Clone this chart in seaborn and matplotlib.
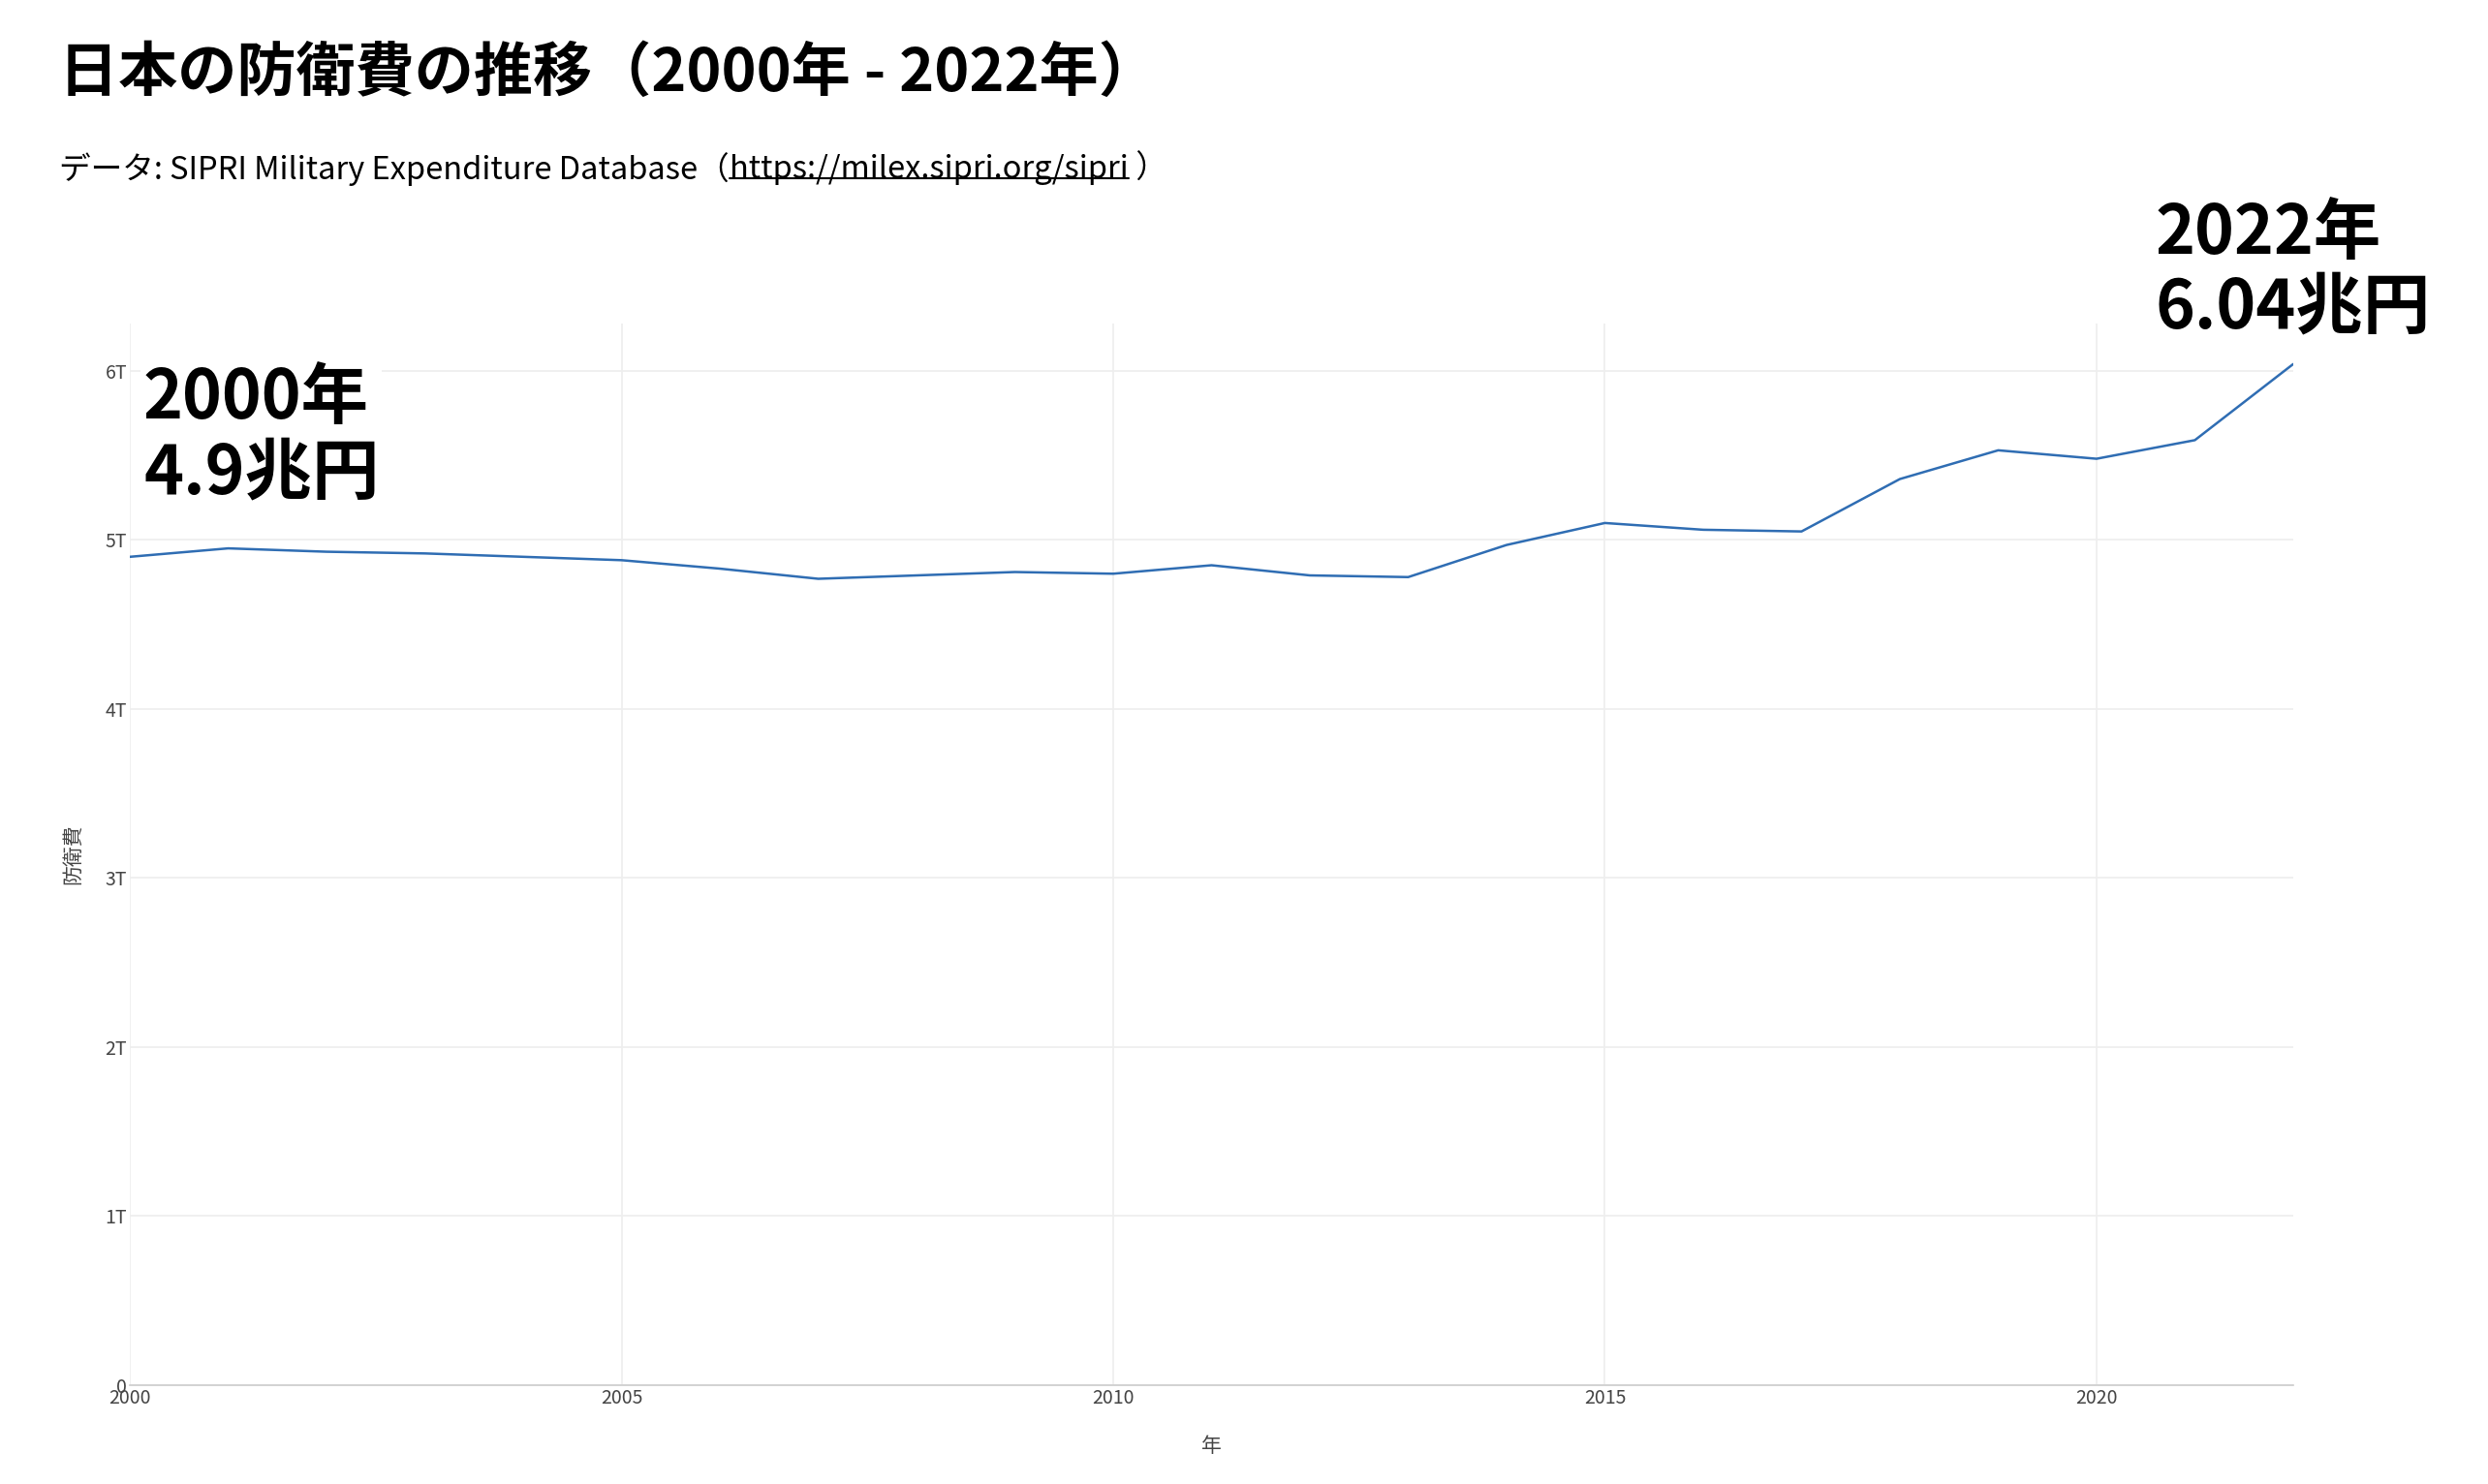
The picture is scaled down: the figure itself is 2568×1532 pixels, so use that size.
import matplotlib
matplotlib.use("Agg")
import matplotlib.pyplot as plt
import matplotlib.ticker as mticker
from matplotlib.lines import Line2D
import seaborn as sns
import pandas as pd

# 防衛費（兆円）, SIPRI
years = list(range(2000, 2023))
spending = [4.90, 4.95, 4.93, 4.92, 4.90, 4.88, 4.83, 4.77, 4.79, 4.81, 4.80, 4.85,
            4.79, 4.78, 4.97, 5.10, 5.06, 5.05, 5.36, 5.53, 5.48, 5.59, 6.04]
y_ticks = [0, 1, 2, 3, 4, 5, 6]
x_ticks = [2000, 2005, 2010, 2015, 2020]

title = "日本の防衛費の推移（2000年 - 2022年）"
sub_pre = "データ: SIPRI Military Expenditure Database（"
sub_url = "https://milex.sipri.org/sipri"
sub_post = " ）"

sns.set_style("white")
plt.rcParams["font.family"] = ["Noto Sans CJK JP", "DejaVu Sans"]

df = pd.DataFrame({"年": years, "防衛費": spending})

fig = plt.figure(figsize=(25.68, 15.32), dpi=100)
ax = fig.add_axes([0.0522, 0.0666, 0.8695, 0.7154])

sns.lineplot(data=df, x="年", y="防衛費", ax=ax, color="#2f6db3", linewidth=1.8)

ax.set_xlim(years[0], years[-1])
ax.set_ylim(0, 6.28)
ax.set_xticks(x_ticks)
ax.set_yticks(y_ticks)
ax.yaxis.set_major_formatter(mticker.FuncFormatter(lambda v, p: "0" if v == 0 else f"{int(v)}T"))
ax.grid(True, color="#eeeeee", linewidth=1.2)
for s in ["top", "right", "left"]:
    ax.spines[s].set_visible(False)
ax.spines["bottom"].set_color("#cccccc")
ax.spines["bottom"].set_linewidth(1.2)
ax.tick_params(axis="both", length=0, labelsize=14, labelcolor="#444444", pad=2)
ax.set_xlabel("年", fontsize=15, color="#444444", labelpad=20)
ax.set_ylabel("防衛費", fontsize=15, color="#444444", labelpad=16)

# 始点・終点の注記
ax.annotate(f"{years[0]}年\n{spending[0]:g}兆円", xy=(years[0], spending[0]),
            xytext=(14, 198), textcoords="offset pixels", ha="left", va="top",
            fontsize=50, fontweight="bold", linespacing=1.12, color="black",
            bbox=dict(facecolor="white", edgecolor="none", pad=2))
ax.annotate(f"{years[-1]}年\n{spending[-1]:.2f}兆円", xy=(years[-1], spending[-1]),
            xytext=(-142, 22), textcoords="offset pixels", ha="left", va="bottom",
            fontsize=50, fontweight="bold", linespacing=1.12, color="black",
            annotation_clip=False)

# タイトル・出典
fig.text(0.0238, 0.95, title, fontsize=44, fontweight="bold", va="center", ha="left",
         color="black")
renderer = fig.canvas.get_renderer()
t1 = fig.text(0.0238, 0.886, sub_pre, fontsize=23.5, va="center", ha="left", color="black")
bb1 = t1.get_window_extent(renderer).transformed(fig.transFigure.inverted())
t2 = fig.text(bb1.x1, 0.886, sub_url, fontsize=23.5, va="center", ha="left", color="black")
bb2 = t2.get_window_extent(renderer).transformed(fig.transFigure.inverted())
fig.text(bb2.x1, 0.886, sub_post, fontsize=23.5, va="center", ha="left", color="black")
uy = bb2.y0 + 0.2 * (bb2.y1 - bb2.y0)
fig.add_artist(Line2D([bb2.x0, bb2.x1], [uy, uy], transform=fig.transFigure,
                      color="black", linewidth=1.5))

fig.savefig("out.png", dpi=100, facecolor="white")
